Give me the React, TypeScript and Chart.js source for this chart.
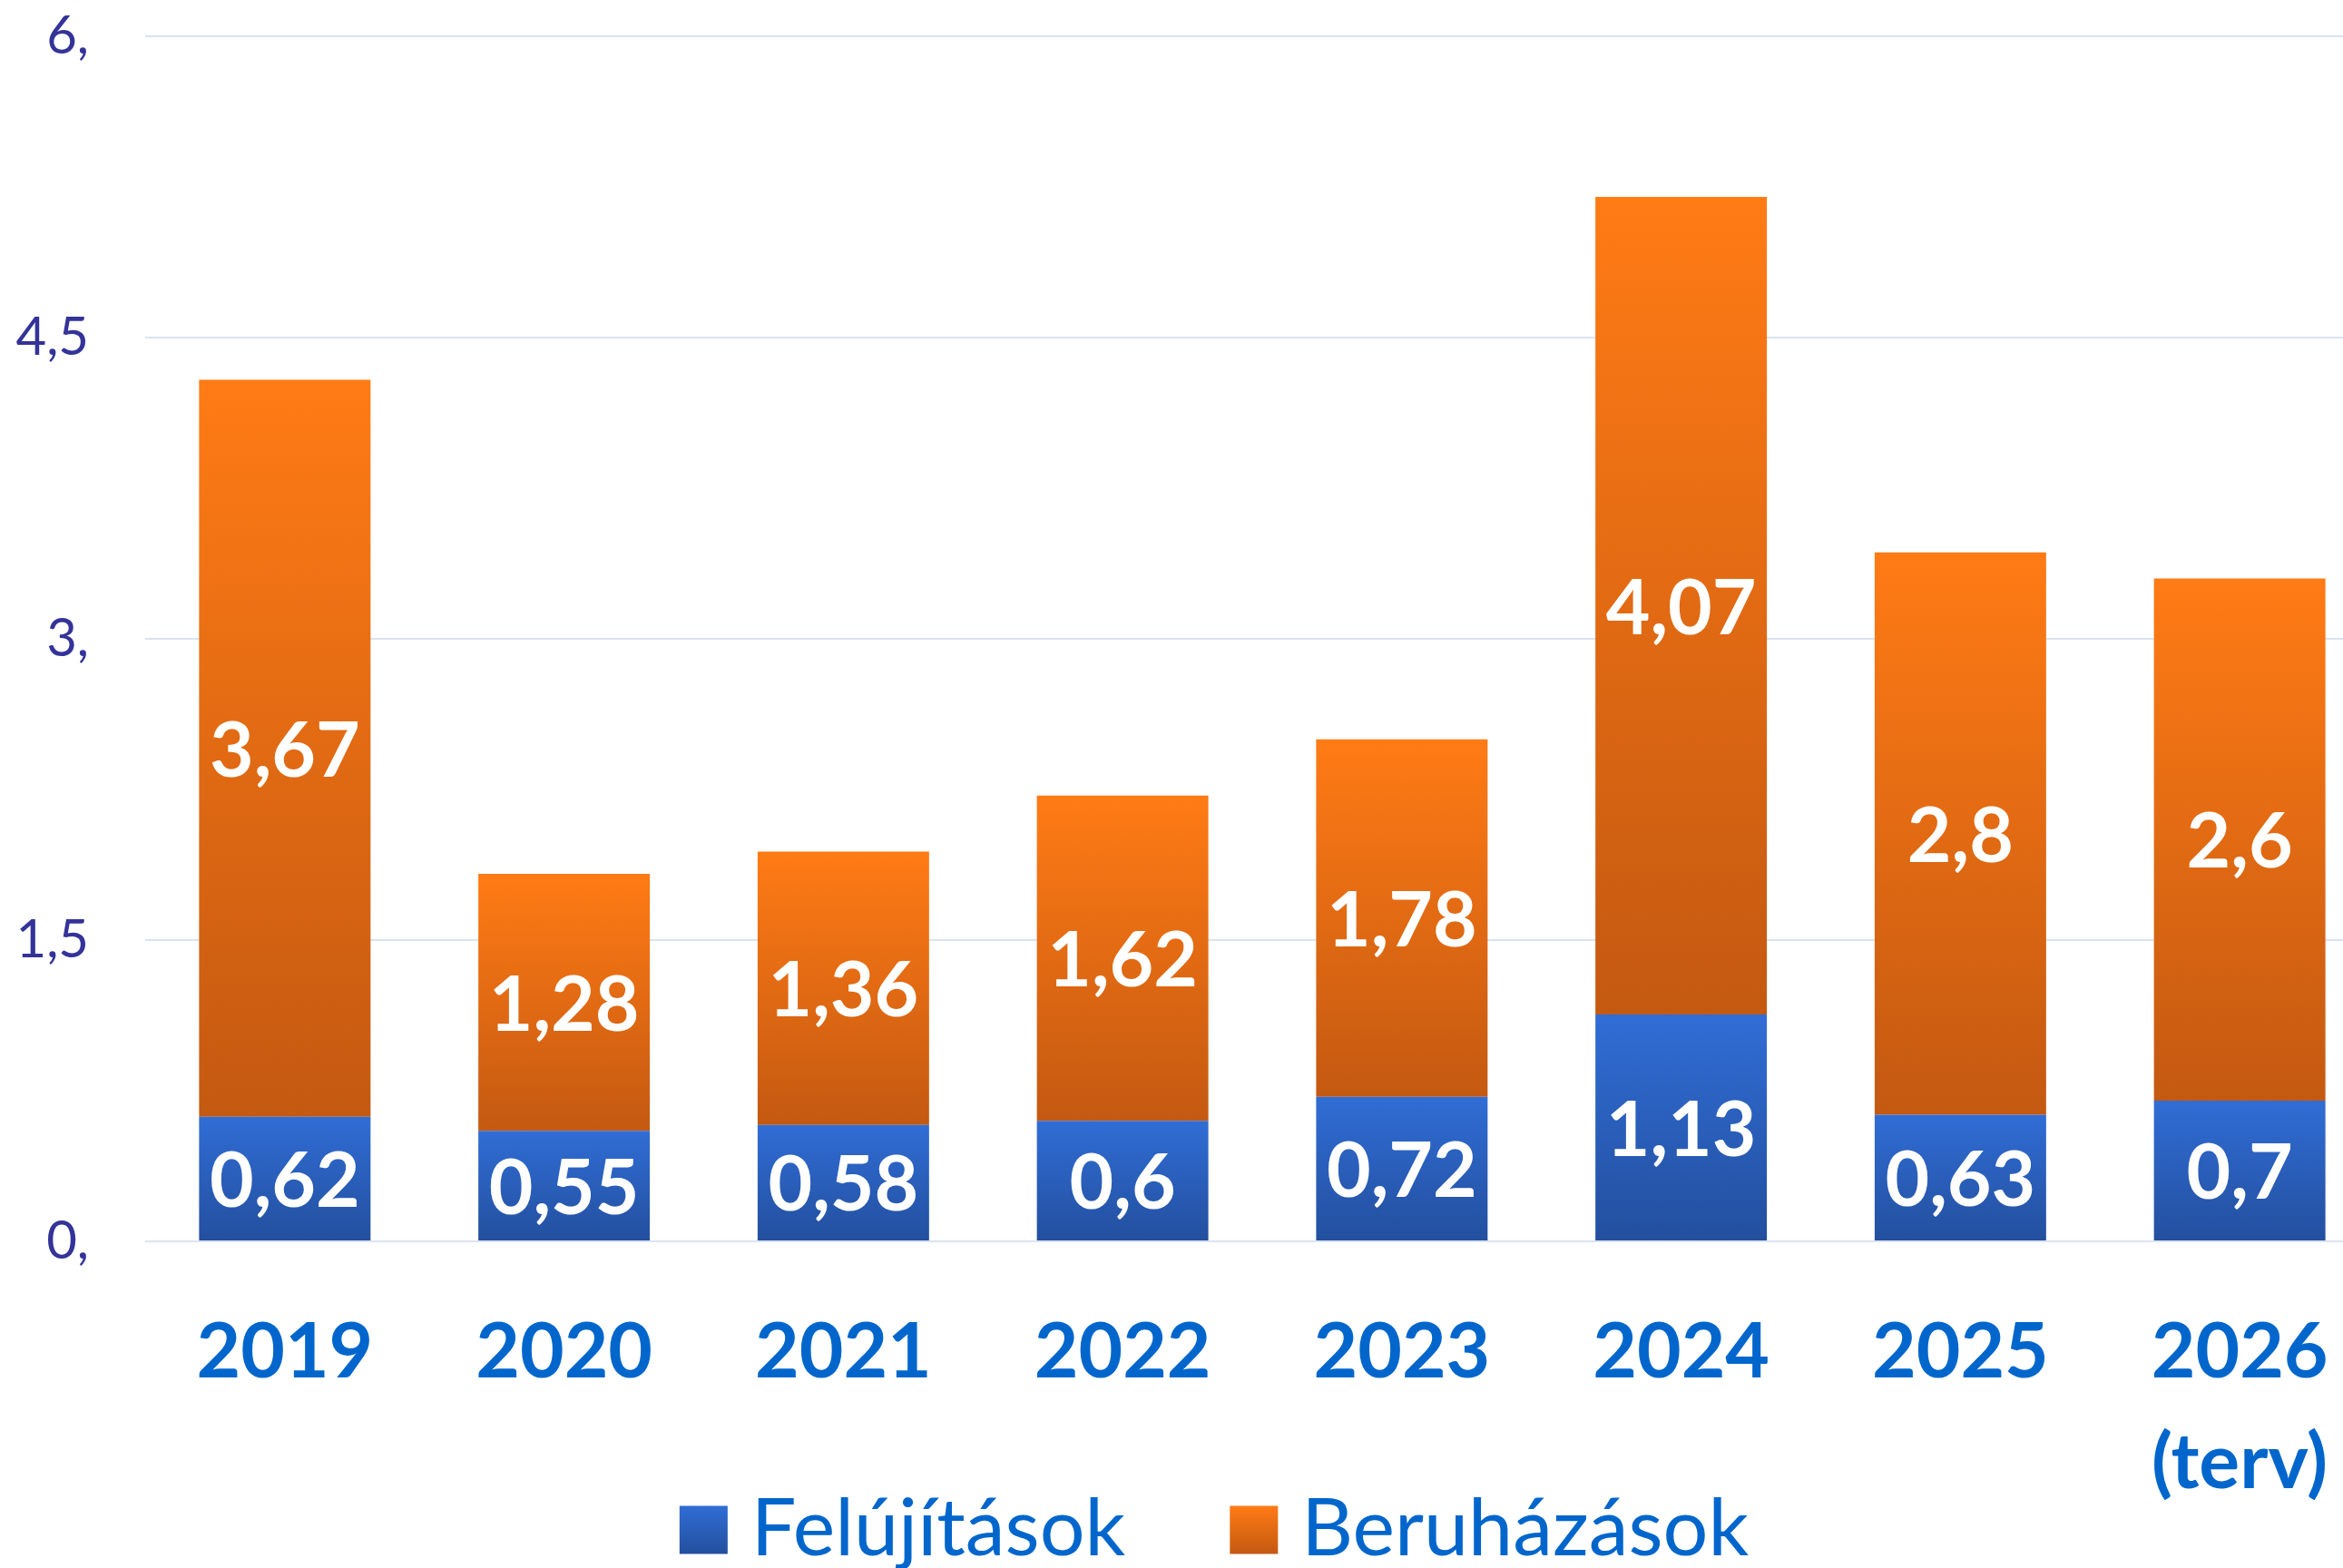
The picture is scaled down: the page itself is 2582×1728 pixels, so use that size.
import React, { useEffect, useRef } from 'react';
import { Chart, registerables } from 'chart.js';

Chart.register(...registerables);

// ---- data ----
const categories: (string | string[])[] = ['2019', '2020', '2021', '2022', '2023', '2024', '2025', ['2026', '(terv)']];
const felujitasok = [0.62, 0.55, 0.58, 0.6, 0.72, 1.13, 0.63, 0.7];
const beruhazasok = [3.67, 1.28, 1.36, 1.62, 1.78, 4.07, 2.8, 2.6];
const yTickLabels = ['0,', '1,5', '3,', '4,5', '6,'];
const seriesNames = ['Felújítások', 'Beruházások'];

// ---- styles ----
const FONT = 'Lato, "Open Sans", "DejaVu Sans", sans-serif';
const BLUE_TOP = '#306DD5';
const BLUE_BOTTOM = '#234F9E';
const ORANGE_TOP = '#FF7B15';
const ORANGE_BOTTOM = '#C45911';
const SERIES_GRADIENTS = [
  [BLUE_TOP, BLUE_BOTTOM],
  [ORANGE_TOP, ORANGE_BOTTOM],
];

const CANVAS_W = 2622;
const CANVAS_H = 1728;

function barGradient(top: string, bottom: string, bases: number[] | null, values: number[]) {
  return (ctx: any) => {
    const chart = ctx.chart;
    const y = chart.scales && chart.scales.y;
    if (ctx.type !== 'data' || !y) return bottom;
    const i = ctx.dataIndex;
    const lo = bases ? bases[i] : 0;
    const hi = lo + values[i];
    const y0 = y.getPixelForValue(hi);
    const y1 = y.getPixelForValue(lo);
    if (!isFinite(y0) || !isFinite(y1) || y0 === y1) return bottom;
    const g = chart.ctx.createLinearGradient(0, y0, 0, y1);
    g.addColorStop(0, top);
    g.addColorStop(1, bottom);
    return g;
  };
}

const fmt = (v: number) => String(v).replace('.', ',');

const valueLabelsPlugin = {
  id: 'valueLabels',
  afterDatasetsDraw(chart: any) {
    const ctx = chart.ctx;
    ctx.save();
    ctx.fillStyle = '#FFFFFF';
    ctx.font = `bold 84px ${FONT}`;
    ctx.textAlign = 'center';
    ctx.textBaseline = 'middle';
    chart.data.datasets.forEach((ds: any, di: number) => {
      const meta = chart.getDatasetMeta(di);
      meta.data.forEach((bar: any, i: number) => {
        const { x, y, base } = bar.getProps(['x', 'y', 'base'], true);
        ctx.fillText(fmt(ds.data[i]), x, (y + base) / 2 + 4);
      });
    });
    ctx.restore();
  },
};

// legend drawn below the axis labels (bottom centre)
const bottomLegendPlugin = {
  id: 'bottomLegend',
  afterDraw(chart: any) {
    const ctx = chart.ctx;
    ctx.save();
    ctx.font = `normal 88px ${FONT}`;
    const box = 53;
    const gapText = 26;
    const gapItem = 115;
    const widths = seriesNames.map((n) => ctx.measureText(n).width);
    const total =
      widths.reduce((a, w) => a + box + gapText + w, 0) + gapItem * (seriesNames.length - 1);
    let x = chart.width / 2 + 27 - total / 2;
    const cy = chart.height - 42;
    seriesNames.forEach((name, i) => {
      const g = ctx.createLinearGradient(0, cy - box / 2, 0, cy + box / 2);
      g.addColorStop(0, SERIES_GRADIENTS[i][0]);
      g.addColorStop(1, SERIES_GRADIENTS[i][1]);
      ctx.fillStyle = g;
      ctx.fillRect(x, cy - box / 2, box, box);
      x += box + gapText;
      ctx.fillStyle = '#0066CC';
      ctx.textAlign = 'left';
      ctx.textBaseline = 'middle';
      ctx.fillText(name, x, cy);
      x += widths[i] + gapItem;
    });
    ctx.restore();
  },
};

export default function App() {
  const ref = useRef<HTMLCanvasElement | null>(null);

  useEffect(() => {
    if (!ref.current) return;
    const chart = new Chart(ref.current, {
      type: 'bar',
      data: {
        labels: categories,
        datasets: [
          {
            label: seriesNames[0],
            data: felujitasok,
            backgroundColor: barGradient(BLUE_TOP, BLUE_BOTTOM, null, felujitasok) as any,
            borderWidth: 0,
            barPercentage: 0.614,
            categoryPercentage: 1,
          },
          {
            label: seriesNames[1],
            data: beruhazasok,
            backgroundColor: barGradient(ORANGE_TOP, ORANGE_BOTTOM, felujitasok, beruhazasok) as any,
            borderWidth: 0,
            barPercentage: 0.614,
            categoryPercentage: 1,
          },
        ],
      },
      options: {
        responsive: false,
        animation: false,
        devicePixelRatio: 1,
        layout: { padding: { top: 40, left: 0, right: 0, bottom: 0 } },
        plugins: {
          tooltip: { enabled: false },
          title: { display: false },
          legend: { display: false },
        },
        scales: {
          x: {
            stacked: true,
            grid: { display: false, drawTicks: false },
            border: { display: false },
            ticks: {
              color: '#0066CC',
              padding: 62,
              maxRotation: 0,
              autoSkip: false,
              font: { family: FONT, size: 84, weight: 'bold', lineHeight: 1.45 },
            },
            afterFit(scale: any) {
              scale.height = 360;
              scale.paddingLeft = 0;
              scale.paddingRight = 0;
            },
          },
          y: {
            stacked: true,
            min: 0,
            max: 6,
            grid: { color: '#D9E3F2', lineWidth: 2, drawTicks: false },
            border: { display: false },
            ticks: {
              stepSize: 1.5,
              padding: 62,
              color: '#333399',
              font: { family: FONT, size: 58, weight: 'normal' },
              callback: (_v: any, index: number) => yTickLabels[index],
            },
            afterFit(scale: any) {
              scale.width = 160;
              scale.paddingTop = 0;
              scale.paddingBottom = 0;
            },
          },
        },
      },
      plugins: [valueLabelsPlugin, bottomLegendPlugin],
    } as any);
    return () => chart.destroy();
  }, []);

  return (
    <div
      style={{
        position: 'fixed',
        left: 0,
        top: 0,
        width: 2582,
        height: 1728,
        overflow: 'hidden',
        background: '#FFFFFF',
      }}
    >
      <canvas
        ref={ref}
        width={CANVAS_W}
        height={CANVAS_H}
        style={{ display: 'block', width: CANVAS_W, height: CANVAS_H }}
      />
    </div>
  );
}
